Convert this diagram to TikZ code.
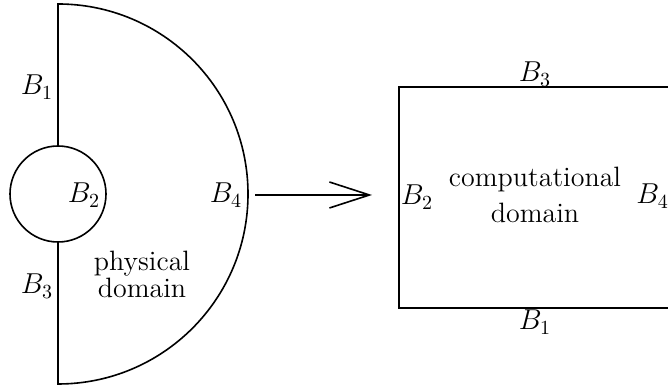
\documentclass[tikz,border=0pt]{standalone}
\usetikzlibrary{arrows.meta}
\begin{document}
\begin{tikzpicture}[x=0.5pt,y=0.5pt,
  edge/.style={line width=0.8pt},
  lbl/.style={inner sep=0pt,font=\fontsize{14}{17}\selectfont,anchor=base},
  txt/.style={inner sep=0pt,font=\fontsize{14}{13.5}\selectfont,align=center},
  maparrow/.style={line width=0.8pt,-{Straight Barb[length=20pt,width=13pt,line width=0.8pt]}}]
\useasboundingbox (0,0) rectangle (668,389);
% physical domain
\coordinate (C) at (58,195);
\draw[edge] (58,243) -- (58,385) arc[start angle=90,end angle=-90,radius=190] -- (58,147);
\draw[edge] (C) circle[radius=48];
\node[lbl] (b1p) at (37,294) {$B_1$};
\node[lbl] (b3p) at (37,95) {$B_3$};
\node[lbl] (b2p) at (84,186) {$B_2$};
\node[lbl] (b4p) at (226,186) {$B_4$};
\node[txt] (phys) at (142,115) {physical\\domain};
% arrow
\coordinate (arrS) at (255,194);
\coordinate (arrE) at (372,194);
\draw[maparrow] (arrS) -- (arrE);
% computational domain
\draw[edge] (672,302) -- (399,302) -- (399,81) -- (672,81);
\node[lbl] (b3c) at (535,307) {$B_3$};
\node[lbl] (b1c) at (535,59) {$B_1$};
\node[lbl] (b2c) at (417,184) {$B_2$};
\node[lbl,anchor=base west] (b4c) at (636,185) {$B_4$};
\node[txt,font=\fontsize{14}{18}\selectfont] (comp) at (535,194) {computational\\domain};
\end{tikzpicture}
\end{document}
